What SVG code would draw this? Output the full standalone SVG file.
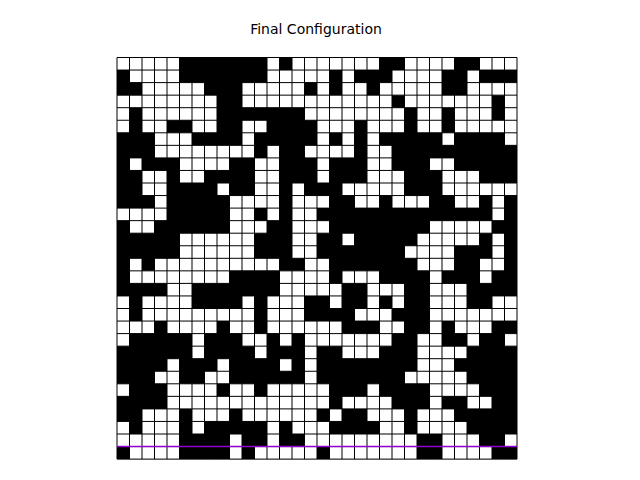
<svg xmlns="http://www.w3.org/2000/svg" width="640" height="480" viewBox="0 0 640 480">
<style>
.title{font-family:"DejaVu Sans","Liberation Sans",sans-serif;font-size:14px;fill:#000}
.w{fill:#fff;stroke:none}
.grid{fill:none;stroke:#000;stroke-width:1}
.mark{stroke:#9400d3;stroke-width:1.5}
</style>
<rect width="640" height="480" fill="#fff"/>
<text class="title" x="316" y="33.5" text-anchor="middle">Final Configuration</text>
<g transform="translate(117 57.5) scale(12.5 12.55)">
<rect x="0" y="0" width="32" height="32" fill="#000"/>
<path class="w" d="M0 0h5v1h-5zM12 0h1v1h-1zM14 0h7v1h-7zM23 0h4v1h-4zM29 0h3v1h-3z
M1 1h4v1h-4zM12 1h5v1h-5zM18 1h1v1h-1zM22 1h4v1h-4zM28 1h1v1h-1z
M2 2h5v1h-5zM10 2h5v1h-5zM16 2h1v1h-1zM18 2h2v1h-2zM21 2h5v1h-5zM28 2h4v1h-4z
M0 3h8v1h-8zM10 3h12v1h-12zM23 3h7v1h-7zM31 3h1v1h-1z
M0 4h1v1h-1zM2 4h6v1h-6zM15 4h8v1h-8zM24 4h2v1h-2zM27 4h3v1h-3zM31 4h1v1h-1z
M0 5h1v1h-1zM2 5h2v1h-2zM6 5h2v1h-2zM10 5h2v1h-2zM16 5h3v1h-3zM20 5h3v1h-3zM24 5h2v1h-2zM27 5h5v1h-5z
M3 6h3v1h-3zM10 6h1v1h-1zM16 6h1v1h-1zM18 6h1v1h-1zM20 6h1v1h-1zM26 6h1v1h-1zM31 6h1v1h-1z
M3 7h8v1h-8zM12 7h1v1h-1zM15 7h4v1h-4zM20 7h2v1h-2z
M1 8h1v1h-1zM5 8h4v1h-4zM11 8h2v1h-2zM16 8h1v1h-1zM20 8h2v1h-2zM25 8h2v1h-2z
M2 9h2v1h-2zM5 9h2v1h-2zM11 9h2v1h-2zM16 9h1v1h-1zM20 9h3v1h-3zM26 9h3v1h-3z
M2 10h2v1h-2zM8 10h1v1h-1zM11 10h2v1h-2zM14 10h1v1h-1zM18 10h5v1h-5zM26 10h6v1h-6z
M3 11h1v1h-1zM9 11h4v1h-4zM14 11h3v1h-3zM19 11h2v1h-2zM22 11h3v1h-3zM27 11h2v1h-2zM30 11h1v1h-1z
M0 12h4v1h-4zM9 12h2v1h-2zM12 12h1v1h-1zM14 12h2v1h-2zM30 12h1v1h-1z
M1 13h2v1h-2zM9 13h3v1h-3zM14 13h3v1h-3zM25 13h5v1h-5z
M5 14h6v1h-6zM14 14h2v1h-2zM18 14h1v1h-1zM24 14h5v1h-5zM30 14h1v1h-1z
M5 15h6v1h-6zM14 15h2v1h-2zM23 15h4v1h-4zM30 15h1v1h-1z
M1 16h1v1h-1zM3 16h10v1h-10zM15 16h2v1h-2zM24 16h3v1h-3zM29 16h2v1h-2z
M1 17h8v1h-8zM13 17h4v1h-4zM18 17h3v1h-3zM25 17h1v1h-1zM29 17h1v1h-1z
M4 18h2v1h-2zM13 18h5v1h-5zM20 18h3v1h-3zM25 18h3v1h-3z
M0 19h1v1h-1zM2 19h4v1h-4zM10 19h1v1h-1zM12 19h3v1h-3zM17 19h1v1h-1zM20 19h1v1h-1zM22 19h1v1h-1zM25 19h3v1h-3zM30 19h2v1h-2z
M0 20h1v1h-1zM2 20h9v1h-9zM12 20h3v1h-3zM19 20h3v1h-3zM25 20h7v1h-7z
M0 21h3v1h-3zM4 21h4v1h-4zM9 21h2v1h-2zM12 21h6v1h-6zM21 21h2v1h-2zM25 21h1v1h-1zM27 21h3v1h-3z
M0 22h1v1h-1zM6 22h1v1h-1zM10 22h2v1h-2zM13 22h1v1h-1zM15 22h7v1h-7zM24 22h2v1h-2zM28 22h1v1h-1zM31 22h1v1h-1z
M6 23h1v1h-1zM11 23h1v1h-1zM15 23h1v1h-1zM18 23h3v1h-3zM24 23h4v1h-4z
M4 24h1v1h-1zM8 24h1v1h-1zM13 24h1v1h-1zM15 24h1v1h-1zM24 24h3v1h-3z
M3 25h2v1h-2zM7 25h2v1h-2zM15 25h1v1h-1zM23 25h5v1h-5z
M0 26h1v1h-1zM4 26h4v1h-4zM9 26h2v1h-2zM12 26h5v1h-5zM20 26h1v1h-1zM25 26h4v1h-4z
M4 27h13v1h-13zM18 27h4v1h-4zM25 27h1v1h-1zM28 27h2v1h-2z
M2 28h3v1h-3zM6 28h3v1h-3zM10 28h6v1h-6zM17 28h1v1h-1zM20 28h3v1h-3zM24 28h3v1h-3z
M0 29h1v1h-1zM2 29h3v1h-3zM6 29h1v1h-1zM12 29h1v1h-1zM14 29h3v1h-3zM21 29h2v1h-2zM24 29h4v1h-4z
M0 30h5v1h-5zM9 30h1v1h-1zM12 30h1v1h-1zM15 30h9v1h-9zM26 30h3v1h-3zM31 30h1v1h-1z
M1 31h4v1h-4zM9 31h1v1h-1zM11 31h5v1h-5zM17 31h7v1h-7zM26 31h4v1h-4z"/>
<path class="grid" vector-effect="non-scaling-stroke" d="M0 0H32M0 1H32M0 2H32M0 3H32M0 4H32M0 5H32M0 6H32M0 7H32M0 8H32M0 9H32M0 10H32M0 11H32M0 12H32M0 13H32M0 14H32M0 15H32M0 16H32M0 17H32M0 18H32M0 19H32M0 20H32M0 21H32M0 22H32M0 23H32M0 24H32M0 25H32M0 26H32M0 27H32M0 28H32M0 29H32M0 30H32M0 31H32M0 32H32
M0 0V32M1 0V32M2 0V32M3 0V32M4 0V32M5 0V32M6 0V32M7 0V32M8 0V32M9 0V32M10 0V32M11 0V32M12 0V32M13 0V32M14 0V32M15 0V32M16 0V32M17 0V32M18 0V32M19 0V32M20 0V32M21 0V32M22 0V32M23 0V32M24 0V32M25 0V32M26 0V32M27 0V32M28 0V32M29 0V32M30 0V32M31 0V32M32 0V32"/>
<line class="mark" vector-effect="non-scaling-stroke" x1="0" y1="31" x2="32" y2="31"/>
</g>
</svg>
